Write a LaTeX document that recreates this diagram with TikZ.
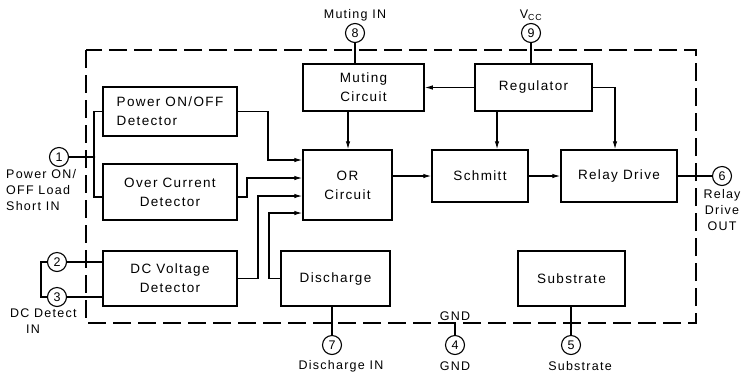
\documentclass[tikz,border=0pt]{standalone}
\usepackage{fontspec}
\setmainfont[LetterSpace=10]{Liberation Sans}
\usetikzlibrary{arrows.meta}
\begin{document}
\begin{tikzpicture}[x=1pt,y=-1pt,
  blk/.style={draw,line width=1.5pt,inner sep=0pt,font=\fontsize{13.5}{19}\selectfont,align=center},
  pin/.style={draw,circle,line width=1.1pt,minimum size=19pt,inner sep=0pt,font=\fontsize{12.5}{12}\selectfont},
  lbl/.style={font=\fontsize{12.5}{16}\selectfont,inner sep=0pt},
  wire/.style={line width=1.1pt},
  arr/.style={wire,-{Latex[length=8pt,width=4.5pt]}},
  border/.style={line width=1.3pt,dash pattern=on 18pt off 7pt}]
\useasboundingbox (0,0) rectangle (743,376);
% border
\draw[border] (86,50) rectangle (696,323);
% blocks
\node[blk,minimum width=134pt,minimum height=49pt,align=left] (pwr) at (170,111.5) {Power ON/OFF\\Detector\hspace{44pt}};
\node[blk,minimum width=134pt,minimum height=56pt] (ovc) at (170,192) {Over Current\\Detector\hspace{12pt}};
\node[blk,minimum width=134pt,minimum height=55pt] (dcv) at (170,278.5) {DC Voltage\\Detector};
\node[blk,minimum width=121pt,minimum height=47pt] (mut) at (363.5,87.5) {Muting\\Circuit};
\node[blk,minimum width=117pt,minimum height=47pt] (reg) at (533.5,87.5) {Regulator};
\node[blk,minimum width=89pt,minimum height=70pt] (orc) at (347.5,185) {OR\hspace{18pt}\\Circuit};
\node[blk,minimum width=96pt,minimum height=52pt] (sch) at (480,176) {Schmitt};
\node[blk,minimum width=116pt,minimum height=52pt] (rly) at (619,176) {Relay Drive};
\node[blk,minimum width=109pt,minimum height=55pt] (dis) at (335.5,278.5) {Discharge};
\node[blk,minimum width=107pt,minimum height=55pt] (sub) at (571.5,278.5) {Substrate};
% pins
\node[pin] (p8) at (355,33) {8};
\node[pin] (p9) at (531,33) {9};
\node[pin] (p1) at (59,157) {1};
\node[pin] (p2) at (57,262) {2};
\node[pin] (p3) at (57,297) {3};
\node[pin] (p6) at (722,176) {6};
\node[pin] (p7) at (332,345) {7};
\node[pin] (p4) at (455,345) {4};
\node[pin] (p5) at (571,345) {5};
% labels
\node[lbl] (l8) at (355,15) {Muting IN};
\node[lbl] (l9) at (531,15) {V\textsubscript{CC}};
\node[lbl,align=left,anchor=north west] (l1) at (6,169) {Power ON/\\OFF Load\\Short IN};
\node[lbl,align=left,anchor=north west] (l23) at (10,309) {DC Detect\\\hspace{16pt}IN};
\node[lbl,align=center,anchor=north] (l6) at (722,189) {Relay\\Drive\\OUT};
\node[lbl] (l7) at (341,366) {Discharge IN};
\node[lbl] (l4) at (455,366) {GND};
\node[lbl] (l4b) at (455,316) {GND};
\node[lbl] (l5) at (580,366) {Substrate};
% pin wires
\draw[wire] (p8.south) -- (p8.south |- mut.north);
\draw[wire] (p9.south) -- (p9.south |- reg.north);
\draw[wire] (p1.east) -- (94,157);
\draw[wire] (pwr.west) -- (94,111.5) -- (94,197) -- (ovc.west |- 94,197);
\fill (94,157) circle (1.3pt);
\draw[wire] (p2.east) -- (dcv.west |- p2.east);
\draw[wire] (p3.east) -- (dcv.west |- p3.east);
\draw[wire] (p2.west) -- (41,262) -- (41,297) -- (p3.west);
\draw[wire] (rly.east) -- (p6.west);
\draw[wire] (p7.north |- dis.south) -- (p7.north);
\draw[wire] (455,323) -- (p4.north);
\draw[wire] (p5.north |- sub.south) -- (p5.north);
% internal connections
\draw[arr] (reg.west) -- (mut.east);
\draw[arr] (reg.east) -| ([xshift=-4pt]rly.north);
\draw[arr] ([xshift=-36.5pt]reg.south) -- ([xshift=-36.5pt]reg.south |- sch.north);
\draw[arr] ([xshift=-15.5pt]mut.south) -- ([xshift=-15.5pt]mut.south |- orc.north);
\draw[arr] (orc.east |- sch.west) -- (sch.west);
\draw[arr] (sch.east) -- (rly.west);
\draw[arr] (pwr.east) -| (268,160) -- (orc.west |- 268,160);
\draw[arr] (ovc.east |- 237,197) -- (247,197) -- (247,178) -- (orc.west |- 247,178);
\draw[arr] (dcv.east) -| (258,196) -- (orc.west |- 258,196);
\draw[arr] (dis.west) -| (269,213) -- (orc.west |- 269,213);
\end{tikzpicture}
\end{document}
